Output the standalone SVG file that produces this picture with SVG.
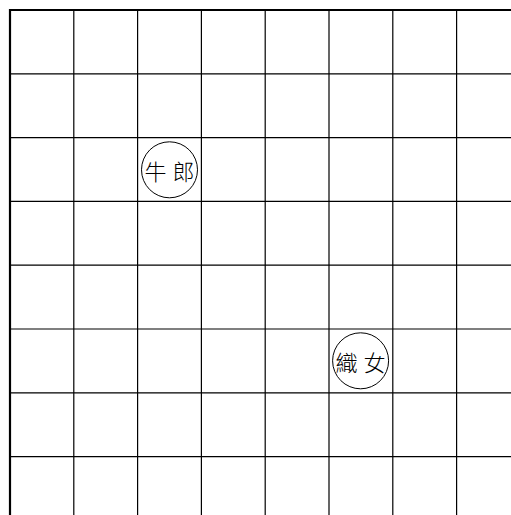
<svg xmlns="http://www.w3.org/2000/svg" width="511" height="515" viewBox="0 0 511 515">
<style>
.g{stroke:#000;stroke-width:1.2;fill:none}
.b{stroke:#000;stroke-width:2.2;fill:none}
.n{fill:#fff;stroke:#000;stroke-width:1}
.t{font-family:"Noto Sans CJK TC","Noto Sans CJK SC",sans-serif;font-size:22px;font-weight:300;fill:#000;text-anchor:middle;dominant-baseline:central;letter-spacing:6px}
</style>
<rect width="511" height="515" fill="#fff"/>
<g id="grid">
<path class="g" d="M73.8 10V515M137.6 10V515M201.4 10V515M265.2 10V515M329 10V515M392.8 10V515M456.6 10V515"/>
<path class="g" d="M10 73.8H511M10 137.6H511M10 201.4H511M10 265.2H511M10 329H511M10 392.8H511M10 456.6H511"/>
<path class="b" d="M10 515V10H511"/>
</g>
<g id="niulang">
<circle class="n" cx="169.5" cy="169.8" r="28"/>
<text class="t" x="172.5" y="169.8">牛郎</text>
</g>
<g id="zhinu">
<circle class="n" cx="360.6" cy="360.8" r="28"/>
<text class="t" x="363.6" y="360.8">織女</text>
</g>
</svg>
